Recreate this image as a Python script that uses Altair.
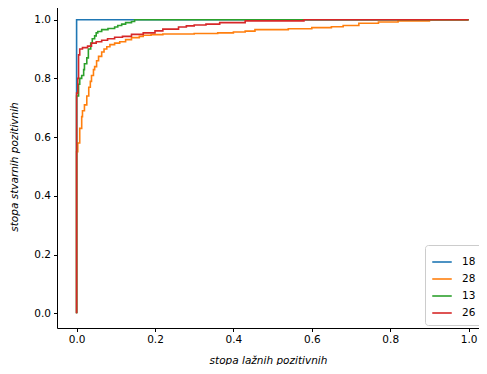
import altair as alt
import pandas as pd

models = ["18", "28", "13", "26"]
colors = ["#1f77b4", "#ff7f0e", "#2ca02c", "#d62728"]

fpr_18 = [0.0, 0.0, 1.0]
tpr_18 = [0.0, 1.0, 1.0]

fpr_28 = [0.0, 0.0, 0.003, 0.008, 0.013, 0.015, 0.02, 0.026, 0.031, 0.035, 0.038, 0.043,
          0.046, 0.051, 0.056, 0.064, 0.07, 0.077, 0.085, 0.097, 0.11, 0.125, 0.14, 0.16,
          0.17, 0.19, 0.22, 0.3, 0.36, 0.4, 0.43, 0.455, 0.54, 0.6, 0.65, 0.68, 0.72,
          0.77, 0.82, 0.9, 1.0]
tpr_28 = [0.0, 0.55, 0.58, 0.63, 0.67, 0.69, 0.71, 0.74, 0.77, 0.79, 0.81, 0.83,
          0.84, 0.86, 0.875, 0.89, 0.90, 0.908, 0.915, 0.92, 0.925, 0.932, 0.939, 0.943,
          0.947, 0.949, 0.951, 0.953, 0.955, 0.958, 0.961, 0.966, 0.969, 0.973, 0.976, 0.98, 0.988,
          0.992, 0.996, 1.0, 1.0]

fpr_13 = [0.0, 0.0, 0.005, 0.008, 0.013, 0.018, 0.02, 0.026, 0.03, 0.036, 0.04, 0.046,
          0.05, 0.054, 0.064, 0.08, 0.097, 0.105, 0.115, 0.125, 0.14, 0.148, 1.0]
tpr_13 = [0.0, 0.74, 0.78, 0.80, 0.81, 0.83, 0.85, 0.87, 0.90, 0.92, 0.935, 0.945,
          0.955, 0.96, 0.966, 0.97, 0.975, 0.98, 0.985, 0.99, 0.994, 1.0, 1.0]

fpr_26 = [0.0, 0.0, 0.003, 0.005, 0.008, 0.015, 0.028, 0.038, 0.05, 0.064, 0.079, 0.097,
          0.117, 0.14, 0.17, 0.2, 0.22, 0.26, 0.28, 0.3, 0.33, 0.365, 0.43, 0.58, 1.0]
tpr_26 = [0.0, 0.75, 0.80, 0.88, 0.90, 0.905, 0.91, 0.92, 0.925, 0.93, 0.935, 0.94,
          0.943, 0.95, 0.955, 0.962, 0.968, 0.975, 0.979, 0.982, 0.985, 0.99, 0.996, 1.0, 1.0]

series = [("18", fpr_18, tpr_18), ("28", fpr_28, tpr_28),
          ("13", fpr_13, tpr_13), ("26", fpr_26, tpr_26)]
rows = []
for name, xs, ys in series:
    for i, (x, y) in enumerate(zip(xs, ys)):
        rows.append({"model": name, "fpr": x, "tpr": y, "idx": i})
df = pd.DataFrame(rows)

ticks = [0.0, 0.2, 0.4, 0.6, 0.8, 1.0]
font = "DejaVu Sans"
W, H = 422, 323

base = alt.Chart(df).mark_line(
    interpolate="step-after", strokeWidth=1.6, clip=True
).encode(
    x=alt.X("fpr:Q", scale=alt.Scale(domain=[-0.05, 1.0265], nice=False, zero=False),
            axis=alt.Axis(values=ticks, format=".1f", title="stopa lažnih pozitivnih")),
    y=alt.Y("tpr:Q", scale=alt.Scale(domain=[-0.05, 1.05], nice=False, zero=False),
            axis=alt.Axis(values=ticks, format=".1f", title="stopa stvarnih pozitivnih")),
    color=alt.Color("model:N", sort=models,
                    scale=alt.Scale(domain=models, range=colors),
                    legend=alt.Legend(title=None, orient="none", legendX=368, legendY=240)),
    order=alt.Order("idx:Q"),
)

layers = [base.transform_filter(alt.datum.model == m) for m in models]

top_border = alt.Chart(df).mark_rule(color="black", strokeWidth=1).encode(
    x=alt.value(0), x2=alt.value(W), y=alt.value(0)
)

chart = alt.layer(*layers, top_border).properties(
    width=W, height=H,
    autosize=alt.AutoSizeParams(type="none"),
    padding={"left": 49, "top": -3, "right": 0, "bottom": 37},
).configure_view(
    stroke=None
).configure_axis(
    domain=True, domainColor="black", domainWidth=1, grid=False,
    tickColor="black", tickSize=3.5, tickWidth=1,
    labelFont=font, labelFontSize=10.5, labelColor="black", labelPadding=3,
    titleFont=font, titleFontSize=10.5, titleFontStyle="italic",
    titleFontWeight="normal", titleColor="black",
).configure_axisX(
    titlePadding=10
).configure_axisY(
    titlePadding=14
).configure_legend(
    labelFont=font, labelFontSize=10.5, labelColor="black",
    symbolType="stroke", symbolSize=380, symbolStrokeWidth=1.6,
    strokeColor="#cccccc", fillColor="white", cornerRadius=3,
    padding=6, rowPadding=0, labelOffset=9,
)

chart.save("out.html", embed_options={"renderer": "svg", "actions": False})
